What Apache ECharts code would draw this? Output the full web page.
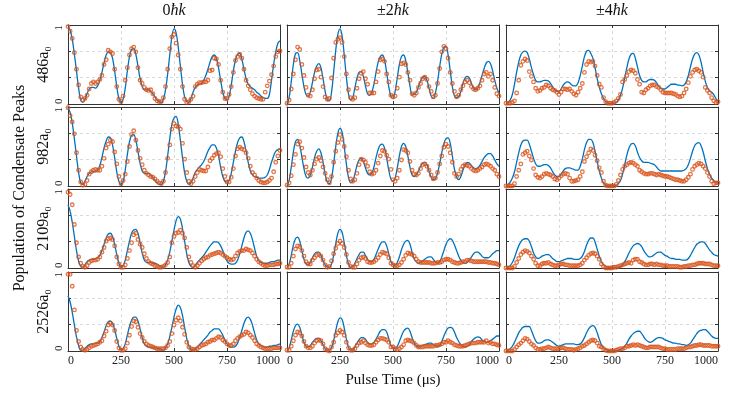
<!DOCTYPE html>
<html>
<head>
<meta charset="utf-8">
<script src="https://cdn.jsdelivr.net/npm/echarts@6/dist/echarts.min.js"></script>
<style>
  html, body { margin: 0; padding: 0; background: #fff; }
  #chart { width: 747px; height: 393px; }
</style>
</head>
<body>
<div id="chart"></div>
<script>
// pulse times (µs), shared by every panel
const TIME_US = [
  0, 10, 20, 30, 40, 50, 60, 70, 80, 90,
  100, 110, 120, 130, 140, 150, 160, 170, 180, 190,
  200, 210, 220, 230, 240, 250, 260, 270, 280, 290,
  300, 310, 320, 330, 340, 350, 360, 370, 380, 390,
  400, 410, 420, 430, 440, 450, 460, 470, 480, 490,
  500, 510, 520, 530, 540, 550, 560, 570, 580, 590,
  600, 610, 620, 630, 640, 650, 660, 670, 680, 690,
  700, 710, 720, 730, 740, 750, 760, 770, 780, 790,
  800, 810, 820, 830, 840, 850, 860, 870, 880, 890,
  900, 910, 920, 930, 940, 950, 960, 970, 980, 990,
  1000
]

const COL_TITLES = ['{n|0}{i|ħk}', '{n|±2}{i|ħk}', '{n|±4}{i|ħk}']
const ROW_LABELS = ['486a₀', '982a₀', '2109a₀', '2526a₀']
const X_TITLE = 'Pulse Time (μs)'
const Y_TITLE = 'Population of Condensate Peaks'

// ---- 0ħk ----
const fit_0k_486 = [
  0.98, 0.93, 0.82, 0.63, 0.42, 0.20, 0.05, 0.02, 0.06, 0.13,
  0.19, 0.21, 0.21, 0.20, 0.23, 0.30, 0.40, 0.52, 0.62, 0.66,
  0.65, 0.58, 0.42, 0.22, 0.07, 0.02, 0.06, 0.20, 0.42, 0.60,
  0.69, 0.70, 0.63, 0.48, 0.32, 0.22, 0.18, 0.18, 0.18, 0.16,
  0.13, 0.09, 0.05, 0.03, 0.02, 0.06, 0.18, 0.38, 0.62, 0.85,
  0.95, 0.90, 0.72, 0.48, 0.25, 0.09, 0.03, 0.02, 0.07, 0.15,
  0.21, 0.24, 0.25, 0.26, 0.30, 0.36, 0.44, 0.53, 0.60, 0.62,
  0.58, 0.46, 0.30, 0.15, 0.07, 0.05, 0.10, 0.24, 0.42, 0.56,
  0.63, 0.64, 0.57, 0.44, 0.32, 0.25, 0.22, 0.20, 0.18, 0.15,
  0.13, 0.10, 0.08, 0.07, 0.07, 0.12, 0.30, 0.50, 0.66, 0.77,
  0.80
]
const exp_0k_486 = [
  0.98, 0.92, 0.83, 0.65, 0.44, 0.24, 0.09, 0.05, 0.07, 0.11,
  0.19, 0.26, 0.28, 0.26, 0.28, 0.31, 0.36, 0.50, 0.56, 0.68,
  0.66, 0.64, 0.44, 0.22, 0.06, 0.03, 0.10, 0.30, 0.46, 0.62,
  0.70, 0.72, 0.66, 0.46, 0.30, 0.26, 0.21, 0.18, 0.17, 0.18,
  0.13, 0.07, 0.04, 0.03, 0.03, 0.08, 0.22, 0.44, 0.70, 0.85,
  0.88, 0.77, 0.62, 0.44, 0.22, 0.06, 0.02, 0.03, 0.06, 0.10,
  0.22, 0.25, 0.27, 0.27, 0.28, 0.28, 0.30, 0.42, 0.43, 0.58,
  0.57, 0.50, 0.30, 0.15, 0.07, 0.07, 0.12, 0.22, 0.40, 0.55,
  0.60, 0.63, 0.58, 0.44, 0.30, 0.23, 0.18, 0.13, 0.10, 0.08,
  0.07, 0.06, 0.06, 0.15, 0.23, 0.29, 0.37, 0.48, 0.60, 0.66,
  0.67
]
const fit_0k_982 = [
  0.99, 0.93, 0.80, 0.60, 0.38, 0.17, 0.04, 0.02, 0.06, 0.12,
  0.16, 0.18, 0.18, 0.18, 0.20, 0.26, 0.36, 0.48, 0.57, 0.62,
  0.61, 0.52, 0.36, 0.18, 0.06, 0.02, 0.06, 0.20, 0.40, 0.56,
  0.64, 0.65, 0.58, 0.44, 0.29, 0.19, 0.16, 0.16, 0.16, 0.14,
  0.11, 0.07, 0.04, 0.02, 0.02, 0.06, 0.18, 0.38, 0.60, 0.78,
  0.86, 0.88, 0.78, 0.58, 0.36, 0.17, 0.06, 0.02, 0.04, 0.10,
  0.17, 0.21, 0.24, 0.27, 0.31, 0.37, 0.44, 0.49, 0.52, 0.52,
  0.48, 0.38, 0.24, 0.12, 0.06, 0.05, 0.07, 0.16, 0.30, 0.44,
  0.55, 0.61, 0.62, 0.56, 0.44, 0.30, 0.19, 0.14, 0.12, 0.11,
  0.10, 0.10, 0.10, 0.11, 0.14, 0.21, 0.30, 0.38, 0.44, 0.46,
  0.47
]
const exp_0k_982 = [
  0.99, 0.89, 0.81, 0.66, 0.42, 0.20, 0.05, 0.01, 0.02, 0.07,
  0.15, 0.18, 0.20, 0.21, 0.20, 0.20, 0.25, 0.35, 0.48, 0.53,
  0.58, 0.56, 0.43, 0.28, 0.12, 0.03, 0.07, 0.15, 0.31, 0.50,
  0.65, 0.70, 0.58, 0.45, 0.35, 0.27, 0.20, 0.16, 0.14, 0.12,
  0.11, 0.09, 0.06, 0.04, 0.03, 0.06, 0.17, 0.35, 0.52, 0.72,
  0.79, 0.76, 0.75, 0.72, 0.54, 0.34, 0.17, 0.06, 0.03, 0.06,
  0.12, 0.17, 0.21, 0.20, 0.19, 0.19, 0.24, 0.32, 0.35, 0.39,
  0.41, 0.42, 0.37, 0.22, 0.12, 0.05, 0.05, 0.11, 0.22, 0.38,
  0.47, 0.49, 0.47, 0.46, 0.42, 0.35, 0.25, 0.17, 0.14, 0.10,
  0.07, 0.05, 0.04, 0.04, 0.05, 0.07, 0.10, 0.18, 0.30, 0.38,
  0.45
]
const fit_0k_2109 = [
  0.80, 0.72, 0.58, 0.40, 0.22, 0.09, 0.02, 0.01, 0.04, 0.08,
  0.10, 0.11, 0.11, 0.12, 0.13, 0.16, 0.22, 0.30, 0.38, 0.43,
  0.44, 0.40, 0.30, 0.17, 0.06, 0.01, 0.03, 0.10, 0.22, 0.34,
  0.44, 0.48, 0.49, 0.44, 0.32, 0.19, 0.10, 0.07, 0.07, 0.07,
  0.06, 0.06, 0.05, 0.03, 0.01, 0.01, 0.04, 0.10, 0.20, 0.34,
  0.48, 0.60, 0.65, 0.62, 0.50, 0.34, 0.18, 0.07, 0.02, 0.01,
  0.03, 0.07, 0.10, 0.13, 0.16, 0.20, 0.24, 0.28, 0.31, 0.33,
  0.33, 0.32, 0.28, 0.22, 0.15, 0.09, 0.06, 0.05, 0.05, 0.06,
  0.10, 0.18, 0.28, 0.38, 0.45, 0.47, 0.44, 0.36, 0.25, 0.15,
  0.09, 0.07, 0.06, 0.06, 0.06, 0.07, 0.08, 0.08, 0.09, 0.10,
  0.10
]
const exp_0k_2109 = [
  0.96, 0.93, 0.80, 0.55, 0.32, 0.14, 0.06, 0.02, 0.01, 0.03,
  0.07, 0.09, 0.10, 0.10, 0.11, 0.14, 0.20, 0.26, 0.34, 0.37,
  0.38, 0.36, 0.28, 0.14, 0.05, 0.01, 0.01, 0.04, 0.12, 0.22,
  0.32, 0.42, 0.44, 0.36, 0.30, 0.26, 0.18, 0.12, 0.08, 0.06,
  0.05, 0.03, 0.02, 0.01, 0.01, 0.02, 0.04, 0.07, 0.14, 0.32,
  0.40, 0.44, 0.45, 0.48, 0.44, 0.38, 0.26, 0.14, 0.07, 0.03,
  0.01, 0.03, 0.06, 0.09, 0.11, 0.13, 0.14, 0.16, 0.17, 0.18,
  0.19, 0.20, 0.19, 0.17, 0.15, 0.13, 0.11, 0.10, 0.11, 0.15,
  0.19, 0.21, 0.22, 0.22, 0.24, 0.23, 0.22, 0.19, 0.15, 0.11,
  0.08, 0.06, 0.04, 0.03, 0.03, 0.04, 0.04, 0.04, 0.05, 0.05,
  0.06
]
const fit_0k_2526 = [
  0.70, 0.62, 0.49, 0.33, 0.18, 0.07, 0.01, 0.01, 0.03, 0.06,
  0.08, 0.09, 0.09, 0.10, 0.10, 0.12, 0.17, 0.24, 0.32, 0.37,
  0.38, 0.35, 0.27, 0.16, 0.06, 0.01, 0.03, 0.09, 0.20, 0.31,
  0.39, 0.43, 0.43, 0.38, 0.28, 0.17, 0.09, 0.06, 0.05, 0.05,
  0.04, 0.04, 0.03, 0.03, 0.02, 0.01, 0.04, 0.09, 0.18, 0.30,
  0.43, 0.53, 0.58, 0.55, 0.45, 0.30, 0.16, 0.06, 0.02, 0.01,
  0.02, 0.05, 0.08, 0.11, 0.14, 0.17, 0.20, 0.24, 0.26, 0.28,
  0.28, 0.28, 0.25, 0.20, 0.14, 0.09, 0.06, 0.05, 0.05, 0.06,
  0.10, 0.17, 0.26, 0.35, 0.41, 0.43, 0.40, 0.33, 0.23, 0.14,
  0.09, 0.07, 0.06, 0.05, 0.05, 0.06, 0.06, 0.07, 0.07, 0.08,
  0.09
]
const exp_0k_2526 = [
  0.97, 0.97, 0.82, 0.52, 0.26, 0.12, 0.05, 0.02, 0.01, 0.02,
  0.04, 0.06, 0.07, 0.08, 0.09, 0.11, 0.13, 0.19, 0.25, 0.33,
  0.35, 0.33, 0.26, 0.12, 0.04, 0.01, 0.01, 0.03, 0.10, 0.20,
  0.31, 0.38, 0.37, 0.30, 0.22, 0.17, 0.12, 0.09, 0.07, 0.06,
  0.05, 0.04, 0.03, 0.03, 0.03, 0.03, 0.04, 0.07, 0.12, 0.22,
  0.33, 0.39, 0.42, 0.38, 0.30, 0.21, 0.11, 0.05, 0.03, 0.02,
  0.02, 0.03, 0.05, 0.07, 0.08, 0.09, 0.11, 0.12, 0.14, 0.14,
  0.16, 0.18, 0.17, 0.14, 0.12, 0.09, 0.07, 0.07, 0.09, 0.13,
  0.16, 0.18, 0.20, 0.21, 0.24, 0.23, 0.20, 0.17, 0.13, 0.09,
  0.07, 0.05, 0.04, 0.03, 0.03, 0.03, 0.03, 0.04, 0.04, 0.04,
  0.04
]

// ---- ±2ħk ----
const fit_2k_486 = [
  0.00, 0.08, 0.28, 0.50, 0.64, 0.65, 0.55, 0.38, 0.22, 0.12,
  0.10, 0.15, 0.27, 0.40, 0.48, 0.51, 0.46, 0.32, 0.16, 0.05,
  0.04, 0.15, 0.40, 0.68, 0.88, 0.95, 0.86, 0.62, 0.34, 0.13,
  0.05, 0.08, 0.20, 0.33, 0.40, 0.41, 0.35, 0.23, 0.13, 0.11,
  0.15, 0.25, 0.40, 0.53, 0.60, 0.62, 0.56, 0.40, 0.22, 0.10,
  0.07, 0.16, 0.33, 0.50, 0.60, 0.62, 0.55, 0.40, 0.23, 0.12,
  0.12, 0.15, 0.22, 0.29, 0.34, 0.35, 0.30, 0.20, 0.10, 0.07,
  0.14, 0.28, 0.47, 0.63, 0.72, 0.73, 0.62, 0.42, 0.22, 0.10,
  0.08, 0.09, 0.16, 0.26, 0.33, 0.35, 0.33, 0.26, 0.20, 0.18,
  0.20, 0.27, 0.36, 0.45, 0.52, 0.54, 0.51, 0.42, 0.30, 0.20,
  0.14
]
const exp_2k_486 = [
  0.01, 0.05, 0.19, 0.38, 0.56, 0.72, 0.69, 0.50, 0.36, 0.21,
  0.11, 0.10, 0.18, 0.32, 0.43, 0.44, 0.34, 0.22, 0.09, 0.06,
  0.07, 0.33, 0.58, 0.78, 0.82, 0.84, 0.78, 0.60, 0.38, 0.18,
  0.08, 0.06, 0.08, 0.20, 0.32, 0.39, 0.41, 0.32, 0.25, 0.14,
  0.14, 0.14, 0.28, 0.41, 0.56, 0.57, 0.54, 0.38, 0.28, 0.11,
  0.09, 0.10, 0.20, 0.34, 0.51, 0.52, 0.50, 0.40, 0.30, 0.13,
  0.11, 0.14, 0.21, 0.26, 0.32, 0.34, 0.31, 0.22, 0.16, 0.09,
  0.11, 0.26, 0.45, 0.66, 0.73, 0.70, 0.58, 0.40, 0.26, 0.16,
  0.09, 0.11, 0.18, 0.23, 0.28, 0.30, 0.27, 0.22, 0.19, 0.18,
  0.20, 0.23, 0.30, 0.38, 0.40, 0.35, 0.38, 0.30, 0.21, 0.13,
  0.10
]
const fit_2k_982 = [
  0.00, 0.07, 0.24, 0.43, 0.56, 0.59, 0.52, 0.37, 0.22, 0.12,
  0.10, 0.14, 0.24, 0.36, 0.44, 0.47, 0.42, 0.30, 0.15, 0.05,
  0.03, 0.10, 0.28, 0.50, 0.67, 0.73, 0.68, 0.50, 0.28, 0.11,
  0.04, 0.06, 0.15, 0.26, 0.33, 0.35, 0.31, 0.23, 0.16, 0.14,
  0.16, 0.24, 0.36, 0.46, 0.52, 0.53, 0.48, 0.36, 0.20, 0.09,
  0.06, 0.10, 0.23, 0.38, 0.50, 0.54, 0.50, 0.38, 0.24, 0.14,
  0.12, 0.14, 0.19, 0.25, 0.29, 0.30, 0.27, 0.19, 0.11, 0.08,
  0.09, 0.16, 0.28, 0.42, 0.54, 0.60, 0.61, 0.54, 0.38, 0.21,
  0.11, 0.08, 0.12, 0.20, 0.27, 0.30, 0.29, 0.26, 0.23, 0.22,
  0.23, 0.26, 0.31, 0.36, 0.39, 0.41, 0.41, 0.38, 0.33, 0.28,
  0.25
]
const exp_2k_982 = [
  0.01, 0.04, 0.13, 0.27, 0.40, 0.53, 0.56, 0.48, 0.36, 0.24,
  0.17, 0.14, 0.20, 0.28, 0.34, 0.36, 0.32, 0.24, 0.16, 0.08,
  0.04, 0.12, 0.30, 0.44, 0.55, 0.65, 0.59, 0.50, 0.37, 0.20,
  0.09, 0.06, 0.08, 0.16, 0.27, 0.34, 0.33, 0.30, 0.25, 0.18,
  0.15, 0.16, 0.20, 0.29, 0.38, 0.45, 0.44, 0.39, 0.34, 0.21,
  0.08, 0.06, 0.10, 0.20, 0.33, 0.46, 0.45, 0.42, 0.31, 0.20,
  0.15, 0.14, 0.16, 0.22, 0.27, 0.28, 0.25, 0.20, 0.14, 0.09,
  0.10, 0.17, 0.28, 0.38, 0.49, 0.53, 0.50, 0.42, 0.30, 0.16,
  0.12, 0.15, 0.21, 0.25, 0.27, 0.26, 0.25, 0.22, 0.20, 0.19,
  0.20, 0.22, 0.24, 0.27, 0.28, 0.27, 0.25, 0.22, 0.20, 0.15,
  0.12
]
const fit_2k_2109 = [
  0.00, 0.05, 0.16, 0.29, 0.37, 0.39, 0.34, 0.22, 0.11, 0.05,
  0.04, 0.07, 0.13, 0.18, 0.20, 0.20, 0.16, 0.09, 0.04, 0.01,
  0.01, 0.05, 0.16, 0.31, 0.44, 0.49, 0.45, 0.32, 0.16, 0.05,
  0.01, 0.02, 0.06, 0.12, 0.17, 0.20, 0.20, 0.16, 0.11, 0.08,
  0.08, 0.11, 0.17, 0.24, 0.30, 0.33, 0.33, 0.28, 0.18, 0.08,
  0.04, 0.03, 0.07, 0.14, 0.23, 0.30, 0.34, 0.35, 0.30, 0.20,
  0.11, 0.08, 0.06, 0.07, 0.09, 0.11, 0.13, 0.14, 0.14, 0.11,
  0.08, 0.06, 0.08, 0.14, 0.22, 0.30, 0.35, 0.37, 0.35, 0.29,
  0.22, 0.15, 0.10, 0.07, 0.06, 0.07, 0.10, 0.14, 0.18, 0.20,
  0.20, 0.18, 0.15, 0.13, 0.13, 0.13, 0.15, 0.18, 0.20, 0.22,
  0.22
]
const exp_2k_2109 = [
  0.01, 0.01, 0.06, 0.15, 0.24, 0.28, 0.27, 0.22, 0.15, 0.08,
  0.05, 0.05, 0.10, 0.13, 0.16, 0.17, 0.15, 0.10, 0.04, 0.01,
  0.02, 0.09, 0.18, 0.25, 0.31, 0.34, 0.31, 0.26, 0.17, 0.07,
  0.02, 0.01, 0.01, 0.05, 0.10, 0.13, 0.14, 0.12, 0.08, 0.07,
  0.07, 0.08, 0.10, 0.13, 0.17, 0.20, 0.19, 0.18, 0.13, 0.06,
  0.04, 0.03, 0.03, 0.04, 0.07, 0.11, 0.16, 0.19, 0.18, 0.17,
  0.15, 0.11, 0.08, 0.07, 0.07, 0.07, 0.07, 0.07, 0.06, 0.06,
  0.06, 0.07, 0.07, 0.08, 0.10, 0.11, 0.11, 0.10, 0.08, 0.07,
  0.06, 0.06, 0.07, 0.08, 0.08, 0.10, 0.10, 0.09, 0.08, 0.08,
  0.08, 0.08, 0.08, 0.08, 0.08, 0.07, 0.07, 0.06, 0.06, 0.05,
  0.04
]
const fit_2k_2526 = [
  0.00, 0.04, 0.14, 0.25, 0.32, 0.34, 0.30, 0.20, 0.11, 0.06,
  0.05, 0.07, 0.11, 0.14, 0.16, 0.16, 0.13, 0.08, 0.03, 0.01,
  0.01, 0.04, 0.13, 0.26, 0.37, 0.42, 0.40, 0.29, 0.15, 0.05,
  0.01, 0.01, 0.05, 0.10, 0.14, 0.17, 0.17, 0.15, 0.11, 0.09,
  0.09, 0.11, 0.15, 0.20, 0.25, 0.27, 0.27, 0.24, 0.16, 0.07,
  0.04, 0.03, 0.06, 0.12, 0.19, 0.25, 0.28, 0.29, 0.25, 0.17,
  0.10, 0.07, 0.05, 0.06, 0.07, 0.08, 0.09, 0.10, 0.10, 0.08,
  0.07, 0.06, 0.07, 0.12, 0.19, 0.25, 0.29, 0.30, 0.29, 0.24,
  0.17, 0.12, 0.08, 0.06, 0.05, 0.06, 0.08, 0.12, 0.15, 0.17,
  0.18, 0.17, 0.14, 0.12, 0.11, 0.11, 0.13, 0.15, 0.17, 0.19,
  0.19
]
const exp_2k_2526 = [
  0.01, 0.01, 0.06, 0.13, 0.20, 0.24, 0.23, 0.19, 0.12, 0.06,
  0.04, 0.04, 0.06, 0.10, 0.13, 0.14, 0.13, 0.09, 0.03, 0.01,
  0.00, 0.05, 0.11, 0.20, 0.23, 0.26, 0.24, 0.20, 0.11, 0.04,
  0.01, 0.01, 0.03, 0.07, 0.10, 0.11, 0.13, 0.10, 0.08, 0.07,
  0.07, 0.08, 0.11, 0.14, 0.16, 0.16, 0.15, 0.14, 0.11, 0.05,
  0.05, 0.03, 0.02, 0.03, 0.05, 0.08, 0.13, 0.14, 0.13, 0.12,
  0.10, 0.07, 0.05, 0.05, 0.05, 0.06, 0.06, 0.06, 0.06, 0.06,
  0.07, 0.07, 0.08, 0.09, 0.11, 0.11, 0.13, 0.11, 0.10, 0.08,
  0.07, 0.06, 0.06, 0.06, 0.07, 0.08, 0.09, 0.10, 0.10, 0.10,
  0.11, 0.11, 0.11, 0.11, 0.13, 0.10, 0.11, 0.09, 0.09, 0.08,
  0.07
]

// ---- ±4ħk ----
const fit_4k_486 = [
  0.00, 0.02, 0.05, 0.12, 0.25, 0.40, 0.53, 0.62, 0.66, 0.67,
  0.65, 0.57, 0.46, 0.37, 0.30, 0.28, 0.28, 0.29, 0.30, 0.30,
  0.29, 0.26, 0.22, 0.18, 0.16, 0.16, 0.19, 0.24, 0.27, 0.28,
  0.27, 0.24, 0.23, 0.23, 0.27, 0.36, 0.48, 0.60, 0.67, 0.68,
  0.64, 0.58, 0.46, 0.32, 0.21, 0.13, 0.07, 0.03, 0.01, 0.00,
  0.00, 0.01, 0.02, 0.05, 0.11, 0.20, 0.33, 0.46, 0.57, 0.63,
  0.64, 0.58, 0.47, 0.36, 0.30, 0.28, 0.28, 0.30, 0.31, 0.31,
  0.30, 0.27, 0.23, 0.20, 0.19, 0.19, 0.21, 0.23, 0.25, 0.25,
  0.25, 0.24, 0.24, 0.23, 0.24, 0.28, 0.36, 0.47, 0.57, 0.63,
  0.65, 0.62, 0.53, 0.40, 0.29, 0.21, 0.17, 0.15, 0.12, 0.07,
  0.03
]
const exp_4k_486 = [
  0.01, 0.01, 0.01, 0.02, 0.04, 0.14, 0.30, 0.49, 0.54, 0.57,
  0.55, 0.41, 0.35, 0.28, 0.20, 0.16, 0.17, 0.20, 0.21, 0.24,
  0.23, 0.20, 0.18, 0.17, 0.15, 0.12, 0.15, 0.19, 0.19, 0.18,
  0.19, 0.16, 0.13, 0.11, 0.15, 0.20, 0.26, 0.40, 0.50, 0.54,
  0.53, 0.54, 0.48, 0.36, 0.25, 0.21, 0.08, 0.03, 0.01, 0.01,
  0.01, 0.02, 0.04, 0.07, 0.12, 0.28, 0.31, 0.36, 0.41, 0.43,
  0.42, 0.39, 0.31, 0.25, 0.15, 0.14, 0.18, 0.20, 0.23, 0.24,
  0.24, 0.22, 0.21, 0.18, 0.15, 0.14, 0.14, 0.14, 0.14, 0.13,
  0.12, 0.10, 0.09, 0.10, 0.14, 0.19, 0.27, 0.35, 0.40, 0.43,
  0.44, 0.42, 0.40, 0.34, 0.21, 0.17, 0.14, 0.08, 0.04, 0.02,
  0.03
]
const fit_4k_982 = [
  0.00, 0.02, 0.05, 0.10, 0.18, 0.30, 0.42, 0.52, 0.57, 0.58,
  0.58, 0.53, 0.44, 0.35, 0.28, 0.25, 0.25, 0.26, 0.27, 0.27,
  0.26, 0.23, 0.18, 0.14, 0.12, 0.12, 0.15, 0.19, 0.22, 0.23,
  0.23, 0.22, 0.21, 0.20, 0.20, 0.25, 0.34, 0.46, 0.55, 0.59,
  0.59, 0.55, 0.44, 0.31, 0.19, 0.10, 0.04, 0.01, 0.00, 0.00,
  0.00, 0.00, 0.01, 0.03, 0.07, 0.15, 0.27, 0.39, 0.48, 0.53,
  0.54, 0.51, 0.43, 0.36, 0.32, 0.30, 0.30, 0.30, 0.29, 0.28,
  0.27, 0.24, 0.21, 0.19, 0.19, 0.19, 0.19, 0.19, 0.19, 0.19,
  0.19, 0.19, 0.19, 0.19, 0.20, 0.22, 0.27, 0.35, 0.44, 0.51,
  0.54, 0.55, 0.51, 0.43, 0.32, 0.22, 0.15, 0.10, 0.07, 0.05,
  0.05
]
const exp_4k_982 = [
  0.00, 0.00, 0.00, 0.00, 0.03, 0.12, 0.20, 0.28, 0.40, 0.42,
  0.44, 0.38, 0.33, 0.22, 0.14, 0.11, 0.10, 0.12, 0.15, 0.16,
  0.15, 0.14, 0.12, 0.09, 0.08, 0.10, 0.13, 0.15, 0.16, 0.15,
  0.10, 0.06, 0.06, 0.07, 0.08, 0.12, 0.18, 0.31, 0.37, 0.42,
  0.47, 0.45, 0.39, 0.32, 0.23, 0.17, 0.06, 0.01, 0.00, 0.00,
  0.00, 0.00, 0.02, 0.07, 0.14, 0.21, 0.25, 0.27, 0.29, 0.30,
  0.29, 0.27, 0.25, 0.20, 0.18, 0.16, 0.15, 0.15, 0.16, 0.16,
  0.15, 0.14, 0.15, 0.14, 0.13, 0.12, 0.12, 0.11, 0.10, 0.09,
  0.08, 0.08, 0.07, 0.06, 0.06, 0.08, 0.11, 0.15, 0.21, 0.25,
  0.27, 0.29, 0.28, 0.25, 0.22, 0.17, 0.12, 0.06, 0.03, 0.04,
  0.04
]
const fit_4k_2109 = [
  0.00, 0.01, 0.03, 0.07, 0.13, 0.21, 0.28, 0.33, 0.36, 0.37,
  0.37, 0.34, 0.27, 0.19, 0.14, 0.12, 0.13, 0.15, 0.16, 0.17,
  0.17, 0.15, 0.12, 0.10, 0.08, 0.08, 0.09, 0.10, 0.11, 0.12,
  0.12, 0.12, 0.11, 0.11, 0.11, 0.12, 0.15, 0.21, 0.29, 0.35,
  0.38, 0.38, 0.33, 0.24, 0.15, 0.08, 0.04, 0.02, 0.01, 0.00,
  0.00, 0.00, 0.00, 0.01, 0.02, 0.04, 0.08, 0.13, 0.19, 0.24,
  0.28, 0.30, 0.31, 0.30, 0.27, 0.22, 0.18, 0.15, 0.14, 0.15,
  0.17, 0.19, 0.20, 0.20, 0.18, 0.16, 0.15, 0.13, 0.12, 0.12,
  0.11, 0.11, 0.11, 0.10, 0.10, 0.10, 0.12, 0.16, 0.21, 0.26,
  0.30, 0.32, 0.33, 0.33, 0.31, 0.27, 0.23, 0.20, 0.17, 0.16,
  0.15
]
const exp_4k_2109 = [
  0.00, 0.00, 0.00, 0.00, 0.02, 0.07, 0.12, 0.17, 0.20, 0.22,
  0.21, 0.19, 0.15, 0.11, 0.06, 0.03, 0.03, 0.05, 0.06, 0.06,
  0.07, 0.05, 0.04, 0.03, 0.03, 0.04, 0.05, 0.05, 0.04, 0.04,
  0.03, 0.03, 0.03, 0.03, 0.03, 0.04, 0.06, 0.10, 0.13, 0.16,
  0.18, 0.19, 0.18, 0.15, 0.11, 0.05, 0.02, 0.00, 0.00, 0.00,
  0.00, 0.01, 0.01, 0.02, 0.03, 0.04, 0.05, 0.06, 0.07, 0.06,
  0.10, 0.11, 0.11, 0.08, 0.07, 0.05, 0.04, 0.04, 0.05, 0.05,
  0.04, 0.05, 0.04, 0.04, 0.03, 0.03, 0.03, 0.02, 0.02, 0.02,
  0.02, 0.02, 0.01, 0.01, 0.02, 0.02, 0.03, 0.03, 0.04, 0.04,
  0.05, 0.06, 0.06, 0.06, 0.05, 0.05, 0.05, 0.04, 0.03, 0.03,
  0.03
]
const fit_4k_2526 = [
  0.00, 0.01, 0.03, 0.06, 0.11, 0.17, 0.23, 0.27, 0.30, 0.31,
  0.31, 0.31, 0.26, 0.19, 0.13, 0.10, 0.10, 0.11, 0.13, 0.14,
  0.14, 0.13, 0.11, 0.09, 0.07, 0.06, 0.07, 0.08, 0.09, 0.09,
  0.09, 0.09, 0.09, 0.08, 0.08, 0.09, 0.12, 0.17, 0.23, 0.28,
  0.31, 0.32, 0.30, 0.23, 0.15, 0.08, 0.04, 0.02, 0.01, 0.00,
  0.00, 0.00, 0.00, 0.01, 0.02, 0.03, 0.06, 0.10, 0.15, 0.19,
  0.22, 0.24, 0.25, 0.25, 0.22, 0.18, 0.14, 0.12, 0.11, 0.12,
  0.14, 0.16, 0.17, 0.17, 0.16, 0.14, 0.13, 0.12, 0.11, 0.10,
  0.10, 0.09, 0.09, 0.08, 0.08, 0.07, 0.08, 0.10, 0.14, 0.18,
  0.22, 0.25, 0.26, 0.27, 0.27, 0.25, 0.22, 0.19, 0.17, 0.16,
  0.16
]
const exp_4k_2526 = [
  0.00, 0.00, 0.00, 0.00, 0.02, 0.05, 0.08, 0.10, 0.13, 0.16,
  0.15, 0.12, 0.09, 0.07, 0.04, 0.02, 0.02, 0.03, 0.03, 0.04,
  0.05, 0.04, 0.03, 0.03, 0.03, 0.03, 0.04, 0.04, 0.03, 0.02,
  0.02, 0.02, 0.01, 0.02, 0.03, 0.04, 0.06, 0.07, 0.09, 0.11,
  0.13, 0.14, 0.13, 0.10, 0.06, 0.05, 0.03, 0.01, 0.00, 0.00,
  0.00, 0.00, 0.01, 0.02, 0.03, 0.03, 0.04, 0.06, 0.06, 0.07,
  0.08, 0.07, 0.08, 0.07, 0.06, 0.05, 0.04, 0.04, 0.05, 0.05,
  0.05, 0.05, 0.05, 0.04, 0.03, 0.03, 0.02, 0.02, 0.02, 0.02,
  0.02, 0.03, 0.03, 0.03, 0.03, 0.04, 0.05, 0.05, 0.06, 0.07,
  0.07, 0.08, 0.08, 0.07, 0.07, 0.07, 0.07, 0.06, 0.06, 0.06,
  0.06
]

// row, col, simulated curve, measured points
const PANELS = [
  [0, 0, fit_0k_486, exp_0k_486], [0, 1, fit_2k_486, exp_2k_486], [0, 2, fit_4k_486, exp_4k_486],
  [1, 0, fit_0k_982, exp_0k_982], [1, 1, fit_2k_982, exp_2k_982], [1, 2, fit_4k_982, exp_4k_982],
  [2, 0, fit_0k_2109, exp_0k_2109], [2, 1, fit_2k_2109, exp_2k_2109], [2, 2, fit_4k_2109, exp_4k_2109],
  [3, 0, fit_0k_2526, exp_0k_2526], [3, 1, fit_2k_2526, exp_2k_2526], [3, 2, fit_4k_2526, exp_4k_2526]
]

const GRID_LEFT = [68, 287, 506]
const GRID_TOP = [25, 107, 189, 272]
const GRID_W = 212
const GRID_H = 79
const FRAME = '#333333'
const SERIF = '"Liberation Serif", "Times New Roman", serif'
const BLUE = '#0072BD'
const ORANGE = '#D95319'

const grid = []
const xAxis = []
const yAxis = []
const series = []

PANELS.forEach(([row, col, fit, meas], i) => {
  grid.push({ left: GRID_LEFT[col], top: GRID_TOP[row], width: GRID_W, height: GRID_H })
  const lastRow = row === 3
  const tick = { show: true, inside: true, length: 3, lineStyle: { color: FRAME, width: 1 } }
  const line = { show: true, onZero: false, lineStyle: { color: FRAME, width: 1 } }

  // bottom axis (labels only on the last row)
  xAxis.push({
    gridIndex: i, type: 'value', position: 'bottom', min: 0, max: 1000, interval: 250,
    axisLine: line, axisTick: tick,
    axisLabel: {
      show: lastRow, color: '#222', fontFamily: SERIF, fontSize: 12, margin: 4,
      formatter: v => String(v),
      alignMinLabel: 'left', alignMaxLabel: 'right'
    },
    splitLine: { show: true, lineStyle: { color: '#d9d9d9', type: [3, 3], width: 1 } },
    name: lastRow && col === 1 ? X_TITLE : '',
    nameLocation: 'middle', nameGap: 22,
    nameTextStyle: { fontFamily: SERIF, fontSize: 15, color: '#111' }
  })
  // top mirror axis (column titles on the first row)
  xAxis.push({
    gridIndex: i, type: 'value', position: 'top', min: 0, max: 1000, interval: 250,
    axisLine: line, axisTick: tick, axisLabel: { show: false }, splitLine: { show: false },
    name: row === 0 ? COL_TITLES[col] : '',
    nameLocation: 'middle', nameGap: 6,
    nameTextStyle: {
      color: '#111',
      rich: {
        n: { fontFamily: SERIF, fontSize: 16, color: '#111' },
        i: { fontFamily: SERIF, fontSize: 16, fontStyle: 'italic', color: '#111' }
      }
    }
  })
  // left axis (0 / 1 labels and row label on the first column)
  yAxis.push({
    gridIndex: i, type: 'value', position: 'left', min: 0, max: 1, interval: 1 / 3,
    axisLine: line, axisTick: tick,
    axisLabel: {
      show: col === 0, rotate: 90, margin: 3, color: '#222', fontFamily: SERIF, fontSize: 11,
      formatter: v => (v < 0.01 ? '0' : (v > 0.99 ? '1' : '')),
      alignMinLabel: 'left', alignMaxLabel: 'right'
    },
    splitLine: { show: true, lineStyle: { color: '#d9d9d9', type: [3, 3], width: 1 } },
    name: col === 0 ? ROW_LABELS[row] : '',
    nameLocation: 'middle', nameRotate: 90, nameGap: 16,
    nameTextStyle: { fontFamily: SERIF, fontSize: 16, color: '#111' }
  })
  // right mirror axis
  yAxis.push({
    gridIndex: i, type: 'value', position: 'right', min: 0, max: 1, interval: 1 / 3,
    axisLine: line, axisTick: tick, axisLabel: { show: false }, splitLine: { show: false }
  })

  series.push({
    type: 'line', xAxisIndex: 2 * i, yAxisIndex: 2 * i,
    data: TIME_US.map((t, k) => [t, fit[k]]),
    smooth: 0.35, showSymbol: false, silent: true,
    lineStyle: { color: BLUE, width: 1.3 }, z: 2
  })
  series.push({
    type: 'scatter', xAxisIndex: 2 * i, yAxisIndex: 2 * i,
    data: TIME_US.map((t, k) => [t, meas[k]]),
    symbol: 'circle', symbolSize: 3.6, silent: true, clip: false,
    itemStyle: { color: 'rgba(255,255,255,0)', borderColor: ORANGE, borderWidth: 1.3 }, z: 3
  })
})

const chart = echarts.init(document.getElementById('chart'))
chart.setOption({
  animation: false,
  backgroundColor: '#fff',
  grid, xAxis, yAxis, series,
  graphic: [{
    type: 'text', x: 20, y: 188, rotation: Math.PI / 2,
    style: {
      text: Y_TITLE, fontFamily: SERIF, fontSize: 16, fill: '#111',
      align: 'center', verticalAlign: 'middle'
    }
  }]
})
</script>
</body>
</html>
